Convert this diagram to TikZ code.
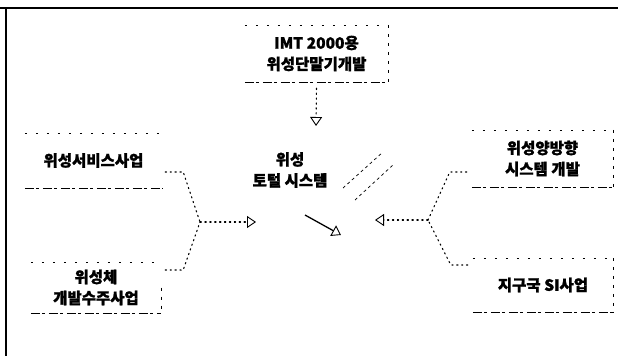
\documentclass[tikz,border=0pt]{standalone}
\usepackage{fontspec}
\setmainfont{Noto Sans CJK KR}
\newfontfamily\krb{Noto Sans CJK KR}[BoldFeatures={FakeBold=1.2}]
\usetikzlibrary{arrows.meta}
\tikzset{
  lbl/.style={font=\krb\bfseries\fontsize{15.5}{21}\selectfont, align=center, inner sep=0pt},
  edgeb/.style={line width=0.9pt, dash pattern=on 9pt off 2pt on 3pt off 4pt},
  edgeth/.style={line width=0.6pt, dash pattern=on 2pt off 9pt},
  edger/.style={line width=0.6pt, dash pattern=on 3pt off 6pt},
  conn/.style={line width=1.1pt, dash pattern=on 1.3pt off 3.6pt, line cap=round},
  tip/.style={-{Triangle[open, length=9pt, width=12pt, line width=0.9pt]}},
  frame/.style={line width=1.2pt}
}
\begin{document}
\begin{tikzpicture}[x=1pt,y=-1pt]
\useasboundingbox (0,0) rectangle (618,356);
% frame
\draw[frame] (0,8) -- (618,8);
\draw[line width=2pt] (322,8) -- (348,8);
\draw[frame] (6,8) -- (6,356);

% boxes
\node[lbl, minimum width=143pt, minimum height=57pt] (top) at (316.5,53.5) {IMT 2000용\\위성단말기개발};
\node[lbl, minimum width=137pt, minimum height=55pt] (lt) at (93.5,160.5) {위성서비스사업};
\node[lbl, minimum width=130pt, minimum height=51pt] (lb) at (96,287.5) {위성체\\개발수주사업};
\node[lbl, minimum width=141pt, minimum height=57pt] (rt) at (542.5,158.5) {위성양방향\\시스템 개발};
\node[lbl, minimum width=140pt, minimum height=54pt] (rb) at (543,285) {지구국 SI사업};
\node[lbl] (c) at (290,170) {위성\\토털 시스템};

% box edges
\foreach \b in {top,lt,lb,rt,rb}{
  \draw[edgeb] (\b.south west) -- (\b.south east);
  \draw[edgeth] (\b.north west) -- (\b.north east);
}
\draw[edger] (top.north east) -- (top.south east);
\draw[edger] (lb.east) -- (lb.south east);
\draw[edger] (rt.north east) -- (rt.south east);
\draw[edger] (rb.north east) -- (rb.south east);

% connector points
\coordinate (jl) at (200,222);
\coordinate (jr) at (428,220);
\coordinate (cl) at (256,222);
\coordinate (cr) at (375,220);
\coordinate (ct) at (316,126);

% top arrow
\draw[conn, tip] ([yshift=-6pt]top.south) -- (ct);
% left arrows
\draw[conn] ([xshift=3pt,yshift=-11.5pt]lt.east) -- ++(18,0) -- (jl);
\draw[conn] ([xshift=4pt,yshift=17.5pt]lb.east) -- ++(18,0) -- (jl);
\draw[conn, tip] (jl) -- (cl);
% right arrows
\draw[conn] ([xshift=-5pt,yshift=-13.5pt]rt.west) -- ++(-17,0) -- (jr);
\draw[conn] ([xshift=-5pt,yshift=20pt]rb.west) -- ++(-17,0) -- (jr);
\draw[conn, tip] (jr) -- (cr);

% diagonal fragments near centre
\draw[line width=0.7pt, dash pattern=on 3pt off 3pt] (343,188) -- (383,152);
\draw[line width=0.7pt, dash pattern=on 3pt off 3pt] (355,200) -- (394,164);
\draw[line width=1.3pt, -{Triangle[open, length=9pt, width=12pt, line width=0.9pt]}] (305,215) -- (341,235);
\end{tikzpicture}
\end{document}
